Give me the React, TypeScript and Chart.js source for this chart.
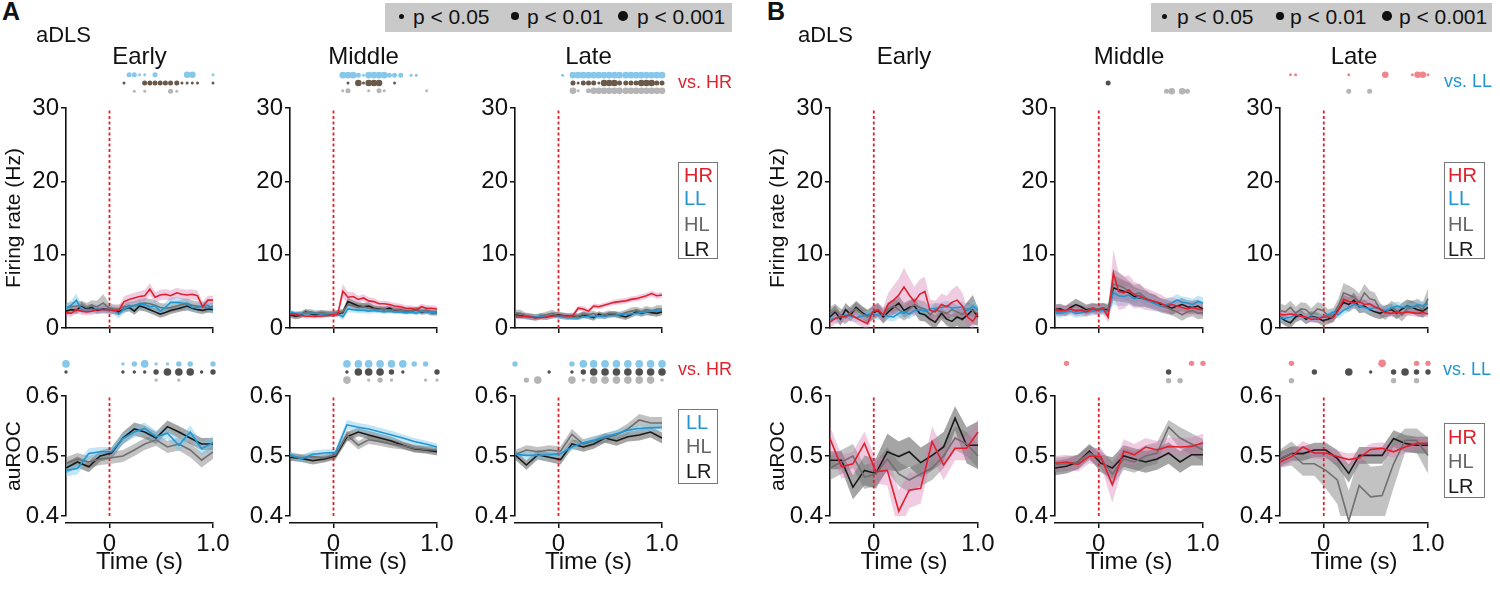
import React, { useEffect, useRef } from 'react';
import { Chart, registerables } from 'chart.js';

Chart.register(...registerables);

const FONT = '"Liberation Sans", Arial, Helvetica, sans-serif';
Chart.defaults.font.family = FONT;
Chart.defaults.color = '#111';

// ---------------- time bins & tick labels ----------------
const TIME_FR = [-0.42, -0.37, -0.32, -0.27, -0.22, -0.17, -0.12, -0.06, -0.01, 0.04, 0.09, 0.14, 0.19, 0.24, 0.29, 0.34, 0.39, 0.44, 0.49, 0.54, 0.59, 0.65, 0.70, 0.75, 0.80, 0.85, 0.90, 0.95, 1.00];
const TIME_ROC = [-0.42, -0.31, -0.20, -0.09, 0.02, 0.13, 0.24, 0.34, 0.45, 0.56, 0.67, 0.78, 0.89, 1.00];
const TIME_TICKS = [0, 1];
const TIME_TICK_LABELS = ['0', '1.0'];
const FR_Y_TICKS = [0, 10, 20, 30];
const FR_Y_LABELS = ['0', '10', '20', '30'];
const ROC_Y_TICKS = [0.4, 0.45, 0.5, 0.55, 0.6];
const ROC_Y_LABELS = ['0.4', '', '0.5', '', '0.6'];
const GROUP_TITLES = ['Early', 'Middle', 'Late'];

// ---------------- A: firing rate ----------------
const A_E_FR_HR = [2.1, 2.0, 2.5, 2.3, 2.2, 2.3, 2.5, 2.5, 2.5, 2.4, 2.4, 3.6, 3.9, 4.1, 4.3, 4.4, 5.3, 4.2, 4.5, 4.6, 4.4, 4.8, 4.6, 4.5, 4.6, 4.4, 2.9, 3.8, 3.8];
const A_E_FR_HR_SEM = [0.5, 0.5, 0.5, 0.5, 0.5, 0.5, 0.5, 0.5, 0.5, 0.5, 0.6, 0.7, 0.7, 0.7, 0.7, 0.8, 0.8, 0.7, 0.7, 0.7, 0.7, 0.7, 0.7, 0.7, 0.7, 0.7, 0.6, 0.6, 0.6];
const A_E_FR_LL = [2.7, 3.1, 3.8, 2.5, 2.5, 2.5, 2.6, 2.5, 2.5, 2.4, 1.9, 2.6, 2.9, 3.0, 3.2, 3.2, 2.9, 3.0, 2.3, 2.8, 3.5, 3.5, 3.4, 3.3, 2.8, 2.8, 3.0, 3.1, 2.6];
const A_E_FR_LL_SEM = [0.6, 0.7, 0.9, 0.6, 0.6, 0.6, 0.6, 0.6, 0.6, 0.6, 0.6, 0.6, 0.6, 0.6, 0.6, 0.6, 0.6, 0.6, 0.6, 0.7, 0.7, 0.7, 0.7, 0.7, 0.6, 0.6, 0.6, 0.7, 0.7];
const A_E_FR_HL = [2.8, 2.9, 3.0, 3.1, 2.8, 3.1, 2.9, 3.4, 2.8, 2.6, 2.6, 2.9, 3.0, 3.1, 3.3, 3.4, 3.3, 3.1, 2.8, 2.7, 2.8, 3.0, 3.2, 3.3, 3.1, 3.0, 2.9, 2.7, 3.0];
const A_E_FR_HL_SEM = [0.6, 0.6, 0.6, 0.6, 0.6, 0.7, 0.8, 1.2, 0.7, 0.6, 0.6, 0.6, 0.6, 0.6, 0.7, 0.7, 0.7, 0.7, 0.6, 0.6, 0.6, 0.6, 0.7, 0.7, 0.7, 0.6, 0.6, 0.6, 0.6];
const A_E_FR_LR = [2.3, 2.5, 2.4, 3.0, 2.6, 2.8, 2.4, 2.6, 2.5, 2.4, 2.2, 2.6, 2.8, 2.3, 3.0, 2.8, 2.5, 2.2, 1.9, 2.1, 2.4, 2.6, 2.8, 3.0, 2.7, 2.5, 2.4, 2.6, 2.5];
const A_E_FR_LR_SEM = [0.5, 0.5, 0.5, 0.6, 0.5, 0.5, 0.5, 0.5, 0.5, 0.5, 0.5, 0.5, 0.5, 0.5, 0.6, 0.5, 0.5, 0.5, 0.5, 0.5, 0.5, 0.5, 0.5, 0.6, 0.5, 0.5, 0.5, 0.5, 0.5];

const A_M_FR_HR = [1.9, 1.9, 1.7, 1.6, 1.6, 1.6, 1.6, 1.7, 1.8, 1.8, 5.0, 4.2, 4.3, 3.9, 4.1, 3.7, 3.6, 3.3, 3.3, 3.2, 3.0, 2.9, 2.7, 2.7, 2.5, 2.9, 2.7, 2.7, 2.6];
const A_M_FR_HR_SEM = [0.3, 0.3, 0.3, 0.3, 0.3, 0.3, 0.3, 0.3, 0.3, 0.3, 1.0, 0.7, 0.6, 0.5, 0.5, 0.5, 0.5, 0.4, 0.4, 0.4, 0.4, 0.4, 0.4, 0.4, 0.4, 0.4, 0.4, 0.4, 0.4];
const A_M_FR_LL = [2.2, 2.0, 2.0, 1.9, 2.0, 2.0, 1.9, 1.9, 2.0, 1.9, 1.5, 2.6, 2.5, 2.4, 2.4, 2.3, 2.4, 2.3, 2.2, 2.3, 2.2, 2.2, 2.1, 2.2, 2.0, 2.3, 2.2, 2.1, 2.1];
const A_M_FR_LL_SEM = [0.3, 0.3, 0.3, 0.3, 0.3, 0.3, 0.3, 0.3, 0.3, 0.3, 0.4, 0.5, 0.4, 0.4, 0.4, 0.4, 0.4, 0.3, 0.3, 0.3, 0.3, 0.3, 0.3, 0.3, 0.3, 0.3, 0.3, 0.3, 0.3];
const A_M_FR_HL = [2.0, 1.8, 1.9, 2.1, 2.2, 2.0, 2.1, 2.0, 2.0, 2.1, 2.2, 3.2, 3.0, 2.8, 2.9, 2.7, 2.6, 2.5, 2.6, 2.4, 2.5, 2.4, 2.3, 2.4, 2.5, 2.3, 2.4, 2.2, 2.2];
const A_M_FR_HL_SEM = [0.4, 0.4, 0.4, 0.4, 0.4, 0.4, 0.4, 0.4, 0.4, 0.4, 0.4, 0.6, 0.5, 0.5, 0.5, 0.5, 0.4, 0.4, 0.4, 0.4, 0.4, 0.4, 0.4, 0.4, 0.4, 0.4, 0.4, 0.4, 0.4];
const A_M_FR_LR = [1.8, 1.6, 1.7, 2.2, 1.9, 1.8, 2.0, 1.9, 1.9, 2.0, 2.1, 3.6, 3.3, 3.0, 2.9, 3.0, 2.7, 2.6, 2.5, 2.7, 2.4, 2.4, 2.3, 2.3, 2.5, 2.2, 2.3, 2.1, 2.1];
const A_M_FR_LR_SEM = [0.4, 0.4, 0.4, 0.4, 0.4, 0.4, 0.4, 0.4, 0.4, 0.4, 0.4, 0.6, 0.5, 0.5, 0.5, 0.5, 0.4, 0.4, 0.4, 0.4, 0.4, 0.4, 0.4, 0.4, 0.4, 0.4, 0.4, 0.4, 0.4];

const A_L_FR_HR = [1.5, 1.5, 1.6, 1.5, 1.4, 1.4, 1.5, 1.6, 1.7, 1.7, 1.6, 1.7, 2.7, 2.6, 2.3, 3.0, 2.9, 3.1, 3.3, 3.5, 3.6, 3.7, 3.9, 4.0, 4.2, 4.4, 4.7, 4.4, 4.5];
const A_L_FR_HR_SEM = [0.3, 0.3, 0.3, 0.3, 0.3, 0.3, 0.3, 0.3, 0.3, 0.3, 0.3, 0.3, 0.35, 0.35, 0.35, 0.35, 0.35, 0.35, 0.35, 0.35, 0.4, 0.4, 0.4, 0.4, 0.4, 0.4, 0.4, 0.4, 0.4];
const A_L_FR_LL = [1.6, 1.6, 1.5, 1.5, 1.5, 1.5, 1.6, 1.6, 1.6, 1.5, 1.4, 1.4, 1.4, 1.5, 1.6, 1.6, 1.6, 1.6, 1.7, 1.7, 1.8, 1.9, 1.9, 2.0, 2.1, 2.2, 2.3, 2.3, 2.4];
const A_L_FR_LL_SEM = [0.3, 0.3, 0.3, 0.3, 0.3, 0.3, 0.3, 0.3, 0.3, 0.3, 0.3, 0.3, 0.3, 0.3, 0.3, 0.3, 0.3, 0.3, 0.3, 0.3, 0.3, 0.3, 0.35, 0.35, 0.35, 0.35, 0.35, 0.35, 0.35];
const A_L_FR_HL = [2.0, 2.0, 1.7, 1.6, 1.5, 1.6, 1.8, 2.0, 1.7, 1.6, 1.5, 1.7, 1.6, 1.9, 1.8, 2.0, 1.6, 1.8, 2.0, 1.9, 1.8, 2.1, 2.3, 2.4, 2.2, 2.5, 2.3, 2.6, 2.6];
const A_L_FR_HL_SEM = [0.5, 0.5, 0.4, 0.4, 0.4, 0.4, 0.4, 0.5, 0.4, 0.4, 0.4, 0.4, 0.4, 0.4, 0.4, 0.4, 0.4, 0.4, 0.4, 0.4, 0.4, 0.4, 0.5, 0.5, 0.5, 0.5, 0.5, 0.5, 0.5];
const A_L_FR_LR = [1.8, 1.7, 1.6, 1.5, 1.4, 1.6, 1.5, 1.7, 1.8, 1.7, 1.6, 1.5, 1.5, 1.8, 1.6, 1.4, 1.9, 1.6, 1.8, 1.9, 1.7, 1.5, 1.8, 2.2, 2.0, 2.2, 2.1, 2.0, 2.2];
const A_L_FR_LR_SEM = [0.4, 0.4, 0.4, 0.4, 0.4, 0.4, 0.4, 0.4, 0.4, 0.4, 0.4, 0.4, 0.4, 0.4, 0.4, 0.4, 0.4, 0.4, 0.4, 0.4, 0.4, 0.4, 0.4, 0.45, 0.45, 0.45, 0.45, 0.45, 0.45];

// ---------------- B: firing rate ----------------
const B_E_FR_HR = [0.8, 1.3, 1.5, 1.6, 1.8, 1.4, 1.0, 0.6, 2.2, 2.5, 1.8, 3.3, 3.8, 4.5, 5.6, 4.5, 3.6, 4.6, 5.0, 2.4, 2.2, 3.2, 2.9, 3.5, 3.8, 3.0, 1.5, 0.9, 2.0];
const B_E_FR_HR_SEM = [0.8, 0.8, 0.8, 0.8, 0.8, 0.8, 0.8, 0.8, 0.9, 1.0, 1.0, 1.5, 2.0, 2.2, 2.6, 2.4, 2.0, 2.0, 2.0, 1.5, 1.5, 1.5, 1.5, 1.8, 2.0, 1.8, 1.2, 1.0, 1.0];
const B_E_FR_LL = [1.2, 1.3, 1.5, 1.8, 1.6, 1.4, 1.6, 1.8, 2.0, 1.7, 1.8, 1.6, 1.5, 2.0, 2.2, 1.9, 2.4, 2.5, 2.3, 2.6, 2.7, 2.8, 3.0, 2.7, 2.8, 2.9, 2.4, 3.0, 2.4];
const B_E_FR_LL_SEM = [0.6, 0.6, 0.6, 0.6, 0.6, 0.6, 0.6, 0.6, 0.6, 0.6, 0.6, 0.6, 0.6, 0.7, 0.7, 0.7, 0.7, 0.7, 0.7, 0.7, 0.7, 0.7, 0.7, 0.7, 0.7, 0.7, 0.7, 0.7, 0.7];
const B_E_FR_HL = [2.0, 2.4, 1.8, 1.4, 2.2, 2.6, 2.0, 1.5, 2.2, 2.5, 1.8, 2.6, 3.0, 2.5, 2.0, 2.5, 3.2, 2.8, 2.6, 1.8, 2.5, 2.2, 2.0, 2.5, 2.2, 1.8, 2.6, 2.4, 2.0];
const B_E_FR_HL_SEM = [0.9, 0.9, 0.9, 0.9, 0.9, 0.9, 0.9, 0.9, 0.9, 0.9, 0.9, 0.9, 1.0, 1.0, 1.0, 1.0, 1.0, 1.0, 1.0, 0.9, 0.9, 0.9, 0.9, 0.9, 0.9, 0.9, 0.9, 0.9, 0.9];
const B_E_FR_LR = [1.5, 2.2, 1.2, 2.5, 1.8, 2.8, 2.2, 1.6, 2.0, 2.4, 1.5, 2.2, 2.8, 3.4, 2.4, 2.8, 3.0, 2.0, 1.8, 1.2, 0.8, 2.0, 1.2, 0.9, 1.5, 1.2, 1.8, 2.5, 1.5];
const B_E_FR_LR_SEM = [0.9, 0.9, 0.9, 0.9, 0.9, 0.9, 0.9, 0.9, 0.9, 0.9, 0.9, 0.9, 1.0, 1.0, 1.0, 1.0, 1.0, 1.0, 0.9, 0.9, 0.9, 0.9, 0.9, 0.9, 1.2, 1.5, 1.8, 2.0, 1.2];

const B_M_FR_HR = [2.5, 2.4, 2.4, 2.6, 2.3, 2.4, 2.2, 2.6, 2.4, 2.7, 1.5, 7.5, 5.0, 4.8, 5.2, 4.5, 4.4, 4.0, 3.8, 3.6, 3.4, 3.0, 3.2, 3.0, 2.8, 2.6, 2.8, 2.6, 2.5];
const B_M_FR_HR_SEM = [0.7, 0.7, 0.7, 0.7, 0.7, 0.7, 0.7, 0.7, 0.7, 0.7, 0.8, 3.2, 2.5, 2.2, 2.0, 1.8, 1.6, 1.5, 1.4, 1.3, 1.2, 1.1, 1.0, 1.0, 0.9, 0.9, 0.9, 0.9, 0.9];
const B_M_FR_LL = [2.1, 2.0, 2.2, 2.3, 2.0, 2.1, 2.2, 2.3, 2.4, 2.4, 2.2, 4.8, 4.4, 4.3, 4.5, 4.0, 4.2, 3.9, 3.6, 3.3, 3.0, 3.2, 3.4, 3.8, 3.5, 3.4, 3.2, 3.6, 3.4];
const B_M_FR_LL_SEM = [0.6, 0.6, 0.6, 0.6, 0.6, 0.6, 0.6, 0.6, 0.6, 0.6, 0.7, 1.6, 1.4, 1.3, 1.2, 1.1, 1.0, 1.0, 0.9, 0.9, 0.8, 0.8, 0.8, 0.8, 0.8, 0.8, 0.8, 0.8, 0.8];
const B_M_FR_HL = [2.3, 2.2, 2.4, 2.6, 2.4, 2.5, 2.3, 2.7, 2.6, 2.8, 2.6, 6.0, 5.8, 5.5, 5.0, 4.6, 4.8, 4.2, 3.8, 3.6, 3.0, 2.8, 2.5, 2.2, 1.8, 2.2, 2.4, 2.0, 2.1];
const B_M_FR_HL_SEM = [0.6, 0.6, 0.6, 0.6, 0.6, 0.6, 0.6, 0.6, 0.6, 0.6, 0.7, 2.0, 1.8, 1.6, 1.4, 1.3, 1.2, 1.1, 1.0, 1.0, 0.9, 0.9, 0.8, 0.8, 0.8, 0.8, 0.8, 0.8, 0.8];
const B_M_FR_LR = [2.5, 2.6, 2.3, 2.8, 3.2, 2.9, 2.5, 2.7, 2.6, 2.7, 2.4, 5.5, 5.2, 5.0, 4.8, 4.3, 4.1, 4.0, 3.7, 3.5, 3.2, 3.0, 2.7, 3.0, 3.2, 2.9, 2.8, 3.0, 2.6];
const B_M_FR_LR_SEM = [0.7, 0.7, 0.7, 0.7, 0.8, 0.7, 0.7, 0.7, 0.7, 0.7, 0.7, 1.8, 1.6, 1.5, 1.4, 1.3, 1.2, 1.1, 1.0, 1.0, 0.9, 0.9, 0.9, 0.9, 0.9, 0.9, 0.9, 0.9, 0.9];

const B_L_FR_HR = [1.8, 1.8, 1.9, 1.8, 1.6, 1.5, 1.2, 1.2, 1.5, 1.5, 1.4, 2.4, 3.9, 3.6, 3.4, 3.6, 3.2, 3.3, 2.9, 2.6, 2.1, 2.0, 2.2, 2.0, 2.2, 2.1, 2.0, 2.1, 1.9];
const B_L_FR_HR_SEM = [0.5, 0.5, 0.5, 0.5, 0.5, 0.5, 0.5, 0.5, 0.5, 0.5, 0.5, 0.7, 0.9, 0.8, 0.8, 0.8, 0.7, 0.7, 0.6, 0.6, 0.5, 0.5, 0.5, 0.5, 0.5, 0.5, 0.5, 0.5, 0.5];
const B_L_FR_LL = [1.4, 1.3, 1.5, 1.8, 1.6, 1.4, 1.5, 1.3, 1.5, 1.8, 2.2, 1.8, 2.4, 2.8, 3.2, 3.0, 2.8, 2.6, 2.8, 2.6, 2.4, 2.7, 3.0, 2.8, 2.9, 2.8, 3.2, 3.0, 3.3];
const B_L_FR_LL_SEM = [0.5, 0.5, 0.5, 0.5, 0.5, 0.5, 0.5, 0.5, 0.5, 0.5, 0.5, 0.5, 0.6, 0.6, 0.6, 0.6, 0.6, 0.6, 0.6, 0.6, 0.6, 0.6, 0.6, 0.6, 0.6, 0.6, 0.6, 0.6, 0.6];
const B_L_FR_HL = [2.4, 2.2, 2.8, 2.0, 2.6, 2.5, 1.8, 2.6, 2.4, 1.7, 1.8, 3.0, 4.8, 4.5, 4.2, 3.5, 4.8, 4.0, 3.8, 2.5, 2.0, 2.8, 2.4, 1.8, 2.6, 2.8, 3.0, 2.5, 4.0];
const B_L_FR_HL_SEM = [0.9, 0.9, 0.9, 0.9, 0.9, 0.9, 0.9, 0.9, 0.9, 0.9, 0.9, 1.0, 1.3, 1.3, 1.2, 1.2, 1.2, 1.1, 1.0, 0.9, 0.9, 0.9, 0.9, 0.9, 0.9, 0.9, 1.0, 1.0, 1.4];
const B_L_FR_LR = [1.5, 1.0, 0.7, 1.5, 1.8, 1.2, 1.6, 1.4, 1.0, 1.2, 1.5, 2.5, 3.5, 3.2, 3.8, 2.9, 3.0, 2.5, 2.2, 2.0, 2.3, 2.5, 2.0, 2.6, 3.0, 2.8, 2.5, 2.3, 2.8];
const B_L_FR_LR_SEM = [0.7, 0.7, 0.7, 0.7, 0.7, 0.7, 0.7, 0.7, 0.7, 0.7, 0.7, 0.8, 1.0, 1.0, 1.0, 0.9, 0.9, 0.8, 0.8, 0.8, 0.8, 0.8, 0.8, 0.8, 0.9, 0.9, 0.9, 0.9, 0.9];

// ---------------- A: auROC ----------------
const A_E_ROC_LL = [0.476, 0.479, 0.504, 0.507, 0.507, 0.529, 0.540, 0.546, 0.532, 0.538, 0.518, 0.540, 0.512, 0.522];
const A_E_ROC_LL_SEM = [0.010, 0.010, 0.009, 0.008, 0.008, 0.009, 0.009, 0.010, 0.010, 0.010, 0.011, 0.011, 0.011, 0.011];
const A_E_ROC_HL = [0.488, 0.495, 0.490, 0.495, 0.497, 0.500, 0.510, 0.520, 0.527, 0.515, 0.520, 0.510, 0.493, 0.507];
const A_E_ROC_HL_SEM = [0.010, 0.010, 0.010, 0.010, 0.010, 0.010, 0.010, 0.010, 0.010, 0.010, 0.011, 0.012, 0.012, 0.012];
const A_E_ROC_LR = [0.480, 0.490, 0.482, 0.500, 0.505, 0.530, 0.545, 0.540, 0.530, 0.549, 0.540, 0.530, 0.520, 0.520];
const A_E_ROC_LR_SEM = [0.009, 0.009, 0.009, 0.009, 0.009, 0.010, 0.011, 0.011, 0.010, 0.010, 0.010, 0.010, 0.010, 0.010];

const A_M_ROC_LL = [0.502, 0.495, 0.503, 0.505, 0.506, 0.552, 0.548, 0.545, 0.540, 0.535, 0.530, 0.524, 0.520, 0.515];
const A_M_ROC_LL_SEM = [0.006, 0.006, 0.006, 0.006, 0.006, 0.008, 0.007, 0.007, 0.007, 0.007, 0.006, 0.006, 0.006, 0.006];
const A_M_ROC_HL = [0.500, 0.497, 0.499, 0.497, 0.502, 0.535, 0.518, 0.527, 0.524, 0.520, 0.517, 0.513, 0.511, 0.510];
const A_M_ROC_HL_SEM = [0.006, 0.006, 0.006, 0.006, 0.006, 0.008, 0.007, 0.007, 0.007, 0.007, 0.006, 0.006, 0.006, 0.006];
const A_M_ROC_LR = [0.498, 0.496, 0.492, 0.495, 0.500, 0.532, 0.540, 0.535, 0.530, 0.525, 0.518, 0.512, 0.510, 0.507];
const A_M_ROC_LR_SEM = [0.006, 0.006, 0.006, 0.006, 0.006, 0.008, 0.007, 0.007, 0.007, 0.007, 0.006, 0.006, 0.006, 0.006];

const A_L_ROC_LL = [0.503, 0.501, 0.501, 0.502, 0.504, 0.515, 0.522, 0.526, 0.532, 0.537, 0.543, 0.546, 0.547, 0.548];
const A_L_ROC_LL_SEM = [0.006, 0.006, 0.006, 0.006, 0.006, 0.006, 0.006, 0.006, 0.006, 0.006, 0.006, 0.006, 0.006, 0.006];
const A_L_ROC_HL = [0.502, 0.510, 0.507, 0.510, 0.508, 0.536, 0.520, 0.525, 0.530, 0.535, 0.545, 0.560, 0.555, 0.555];
const A_L_ROC_HL_SEM = [0.008, 0.008, 0.008, 0.008, 0.008, 0.009, 0.008, 0.008, 0.008, 0.008, 0.009, 0.010, 0.010, 0.010];
const A_L_ROC_LR = [0.502, 0.485, 0.502, 0.498, 0.494, 0.520, 0.515, 0.520, 0.530, 0.525, 0.532, 0.535, 0.540, 0.530];
const A_L_ROC_LR_SEM = [0.008, 0.008, 0.008, 0.008, 0.008, 0.008, 0.008, 0.008, 0.008, 0.008, 0.008, 0.009, 0.009, 0.009];

// ---------------- B: auROC ----------------
const B_E_ROC_HR = [0.529, 0.482, 0.487, 0.521, 0.474, 0.476, 0.408, 0.443, 0.446, 0.524, 0.485, 0.513, 0.513, 0.540];
const B_E_ROC_HR_SEM = [0.020, 0.020, 0.020, 0.020, 0.020, 0.025, 0.035, 0.030, 0.025, 0.025, 0.025, 0.020, 0.020, 0.020];
const B_E_ROC_HL = [0.480, 0.490, 0.500, 0.465, 0.470, 0.495, 0.470, 0.460, 0.470, 0.480, 0.500, 0.530, 0.520, 0.500];
const B_E_ROC_HL_SEM = [0.020, 0.020, 0.020, 0.020, 0.020, 0.020, 0.020, 0.020, 0.020, 0.020, 0.020, 0.020, 0.020, 0.020];
const B_E_ROC_LR = [0.493, 0.493, 0.448, 0.476, 0.471, 0.507, 0.499, 0.507, 0.489, 0.501, 0.515, 0.563, 0.518, 0.518];
const B_E_ROC_LR_SEM = [0.015, 0.015, 0.020, 0.025, 0.025, 0.030, 0.025, 0.025, 0.025, 0.025, 0.025, 0.020, 0.030, 0.040];

const B_M_ROC_HR = [0.488, 0.490, 0.486, 0.500, 0.499, 0.452, 0.508, 0.502, 0.515, 0.510, 0.516, 0.515, 0.516, 0.522];
const B_M_ROC_HR_SEM = [0.012, 0.012, 0.012, 0.012, 0.015, 0.030, 0.020, 0.018, 0.015, 0.015, 0.015, 0.015, 0.015, 0.015];
const B_M_ROC_HL = [0.485, 0.487, 0.490, 0.505, 0.495, 0.470, 0.495, 0.490, 0.500, 0.505, 0.548, 0.530, 0.520, 0.510];
const B_M_ROC_HL_SEM = [0.012, 0.012, 0.012, 0.012, 0.015, 0.020, 0.018, 0.018, 0.018, 0.018, 0.012, 0.018, 0.018, 0.018];
const B_M_ROC_LR = [0.480, 0.483, 0.490, 0.508, 0.488, 0.480, 0.500, 0.495, 0.490, 0.495, 0.505, 0.490, 0.502, 0.502];
const B_M_ROC_LR_SEM = [0.012, 0.012, 0.012, 0.012, 0.015, 0.018, 0.018, 0.018, 0.018, 0.018, 0.018, 0.018, 0.018, 0.018];

const B_L_ROC_HR = [0.490, 0.499, 0.515, 0.505, 0.505, 0.499, 0.494, 0.497, 0.511, 0.513, 0.507, 0.515, 0.521, 0.521];
const B_L_ROC_HR_SEM = [0.010, 0.010, 0.010, 0.010, 0.010, 0.010, 0.010, 0.010, 0.010, 0.010, 0.010, 0.010, 0.010, 0.010];
const B_L_ROC_HL = [0.496, 0.504, 0.487, 0.487, 0.476, 0.460, 0.392, 0.451, 0.432, 0.434, 0.487, 0.526, 0.526, 0.501];
const B_L_ROC_HL_SEM = [0.015, 0.020, 0.020, 0.020, 0.030, 0.040, 0.050, 0.050, 0.050, 0.050, 0.040, 0.020, 0.020, 0.030];
const B_L_ROC_LR = [0.495, 0.504, 0.504, 0.510, 0.510, 0.496, 0.471, 0.501, 0.501, 0.501, 0.529, 0.521, 0.518, 0.518];
const B_L_ROC_LR_SEM = [0.012, 0.012, 0.012, 0.012, 0.012, 0.014, 0.015, 0.014, 0.014, 0.014, 0.014, 0.014, 0.014, 0.014];

// ---------------- significance markers: [bin index, level 1..3] ----------------
type Sig = [number, number][];
const A_E_FR_SIG_LL: Sig = [[12, 2], [13, 2], [14, 1], [15, 1], [17, 2], [23, 3], [24, 3], [28, 1]];
const A_E_FR_SIG_LR: Sig = [[11, 1], [15, 2], [16, 2], [17, 2], [18, 2], [19, 2], [20, 2], [21, 2], [22, 1], [23, 1], [24, 1], [25, 1], [28, 1]];
const A_E_FR_SIG_HL: Sig = [[13, 1], [15, 1], [20, 2], [21, 1]];
const A_M_FR_SIG_LL: Sig = [[10, 3], [11, 3], [12, 3], [13, 2], [14, 1], [15, 3], [16, 3], [17, 3], [18, 3], [19, 2], [20, 2], [21, 2], [23, 1], [24, 1]];
const A_M_FR_SIG_LR: Sig = [[11, 1], [13, 3], [14, 1], [15, 3], [16, 3], [17, 3], [20, 1]];
const A_M_FR_SIG_HL: Sig = [[10, 1], [11, 2], [15, 1], [17, 2], [18, 1], [26, 1]];
const A_L_FR_SIG_LL: Sig = [[9, 1], [11, 3], [12, 3], [13, 3], [14, 3], [15, 3], [16, 3], [17, 3], [18, 3], [19, 3], [20, 3], [21, 3], [22, 3], [23, 3], [24, 3], [25, 3], [26, 3], [27, 3], [28, 3]];
const A_L_FR_SIG_LR: Sig = [[11, 2], [12, 1], [13, 2], [14, 2], [15, 2], [16, 1], [17, 3], [18, 3], [19, 3], [20, 2], [21, 2], [22, 2], [23, 2], [24, 3], [25, 3], [26, 3], [27, 2], [28, 2]];
const A_L_FR_SIG_HL: Sig = [[11, 3], [12, 1], [14, 2], [15, 3], [16, 3], [17, 3], [18, 3], [19, 3], [20, 3], [21, 3], [22, 3], [23, 3], [24, 3], [25, 3], [26, 3], [27, 3], [28, 3]];

const A_E_ROC_SIG_LL: Sig = [[0, 3], [5, 1], [6, 2], [7, 3], [8, 1], [9, 1], [10, 2], [11, 2], [13, 2]];
const A_E_ROC_SIG_LR: Sig = [[0, 1], [5, 1], [6, 1], [7, 1], [8, 2], [9, 3], [10, 3], [11, 3], [12, 1], [13, 2]];
const A_E_ROC_SIG_HL: Sig = [[8, 1], [10, 1]];
const A_M_ROC_SIG_LL: Sig = [[5, 3], [6, 3], [7, 3], [8, 3], [9, 3], [10, 3], [11, 2], [12, 2]];
const A_M_ROC_SIG_LR: Sig = [[5, 1], [6, 3], [7, 3], [8, 3], [9, 2], [10, 1], [13, 2]];
const A_M_ROC_SIG_HL: Sig = [[5, 3], [7, 1], [8, 2], [9, 1], [12, 1], [13, 1]];
const A_L_ROC_SIG_LL: Sig = [[0, 2], [5, 2], [6, 3], [7, 3], [8, 3], [9, 3], [10, 3], [11, 3], [12, 3], [13, 3]];
const A_L_ROC_SIG_LR: Sig = [[3, 1], [5, 1], [6, 2], [7, 3], [8, 3], [9, 3], [10, 3], [11, 3], [12, 3], [13, 3]];
const A_L_ROC_SIG_HL: Sig = [[1, 2], [2, 3], [5, 3], [6, 1], [7, 3], [8, 3], [9, 3], [10, 3], [11, 3], [12, 3], [13, 1]];

const B_M_FR_SIG_LR: Sig = [[10, 2]];
const B_M_FR_SIG_HL: Sig = [[21, 2], [22, 3], [24, 3], [25, 2]];
const B_L_FR_SIG_HR: Sig = [[2, 1], [3, 1], [13, 1], [20, 3], [25, 1], [26, 3], [27, 3], [28, 1]];
const B_L_FR_SIG_HL: Sig = [[13, 2], [17, 2]];
const B_M_ROC_SIG_HR: Sig = [[1, 2], [12, 2], [13, 2]];
const B_M_ROC_SIG_LR: Sig = [[10, 2]];
const B_M_ROC_SIG_HL: Sig = [[10, 2], [11, 2]];
const B_L_ROC_SIG_HR: Sig = [[1, 2], [9, 3], [12, 2], [13, 2]];
const B_L_ROC_SIG_LR: Sig = [[3, 2], [6, 3], [8, 1], [10, 2], [11, 3], [12, 2], [13, 2]];
const B_L_ROC_SIG_HL: Sig = [[1, 2], [10, 2], [12, 2]];
const NONE: Sig = [];

// ---------------- styles ----------------
type Cond = 'HR' | 'LL' | 'HL' | 'LR';
const LINE_COLORS: Record<Cond, string> = { HR: '#e2202c', LL: '#2196d3', HL: '#707070', LR: '#1a1a1a' };
const BAND_COLORS: Record<Cond, string> = {
  HR: 'rgba(214,120,180,0.38)',
  LL: 'rgba(120,200,232,0.45)',
  HL: 'rgba(110,110,110,0.42)',
  LR: 'rgba(55,55,55,0.45)',
};
const LINE_ORDER: Record<Cond, number> = { HR: 1, LL: 2, HL: 3, LR: 4 };
const SIG_BLUE = '#86c7ea';
const SIG_BROWN = '#6a5849';
const SIG_DARK = '#505050';
const SIG_GRAY = '#b5b5b5';
const SIG_RED = '#f0868c';
const AXIS = '#111';

const YW = 64;
const PADR = 22;
const GEOM = {
  fr: { top: 40, padTop: 68, area: 220, gap: 0, xh: 18, sigTop: 63.5, sigStep: 9.5, r: [0, 1.5, 2.5, 3.3] },
  roc: { top: 340, padTop: 56, area: 120, gap: 7, xh: 58, sigTop: 352, sigStep: 10, r: [0, 1.7, 2.7, 3.8] },
};

interface SeriesSpec { cond: Cond; mean: number[]; sem: number[] }
interface SigRow { color: string; pts: Sig }
interface PanelSpec { id: string; row: 'fr' | 'roc'; axisX: number; plotW: number; yTitle?: string; series: SeriesSpec[]; sig: SigRow[] }

const s = (cond: Cond, mean: number[], sem: number[]): SeriesSpec => ({ cond, mean, sem });

const PANELS: PanelSpec[] = [
  { id: 'AEfr', row: 'fr', axisX: 66, plotW: 147, yTitle: 'Firing rate (Hz)',
    series: [s('LR', A_E_FR_LR, A_E_FR_LR_SEM), s('HL', A_E_FR_HL, A_E_FR_HL_SEM), s('LL', A_E_FR_LL, A_E_FR_LL_SEM), s('HR', A_E_FR_HR, A_E_FR_HR_SEM)],
    sig: [{ color: SIG_BLUE, pts: A_E_FR_SIG_LL }, { color: SIG_BROWN, pts: A_E_FR_SIG_LR }, { color: SIG_GRAY, pts: A_E_FR_SIG_HL }] },
  { id: 'AMfr', row: 'fr', axisX: 290, plotW: 147,
    series: [s('LR', A_M_FR_LR, A_M_FR_LR_SEM), s('HL', A_M_FR_HL, A_M_FR_HL_SEM), s('LL', A_M_FR_LL, A_M_FR_LL_SEM), s('HR', A_M_FR_HR, A_M_FR_HR_SEM)],
    sig: [{ color: SIG_BLUE, pts: A_M_FR_SIG_LL }, { color: SIG_BROWN, pts: A_M_FR_SIG_LR }, { color: SIG_GRAY, pts: A_M_FR_SIG_HL }] },
  { id: 'ALfr', row: 'fr', axisX: 515, plotW: 147,
    series: [s('LR', A_L_FR_LR, A_L_FR_LR_SEM), s('HL', A_L_FR_HL, A_L_FR_HL_SEM), s('LL', A_L_FR_LL, A_L_FR_LL_SEM), s('HR', A_L_FR_HR, A_L_FR_HR_SEM)],
    sig: [{ color: SIG_BLUE, pts: A_L_FR_SIG_LL }, { color: SIG_BROWN, pts: A_L_FR_SIG_LR }, { color: SIG_GRAY, pts: A_L_FR_SIG_HL }] },
  { id: 'AEroc', row: 'roc', axisX: 66, plotW: 147, yTitle: 'auROC',
    series: [s('LR', A_E_ROC_LR, A_E_ROC_LR_SEM), s('HL', A_E_ROC_HL, A_E_ROC_HL_SEM), s('LL', A_E_ROC_LL, A_E_ROC_LL_SEM)],
    sig: [{ color: SIG_BLUE, pts: A_E_ROC_SIG_LL }, { color: SIG_DARK, pts: A_E_ROC_SIG_LR }, { color: SIG_GRAY, pts: A_E_ROC_SIG_HL }] },
  { id: 'AMroc', row: 'roc', axisX: 290, plotW: 147,
    series: [s('LR', A_M_ROC_LR, A_M_ROC_LR_SEM), s('HL', A_M_ROC_HL, A_M_ROC_HL_SEM), s('LL', A_M_ROC_LL, A_M_ROC_LL_SEM)],
    sig: [{ color: SIG_BLUE, pts: A_M_ROC_SIG_LL }, { color: SIG_DARK, pts: A_M_ROC_SIG_LR }, { color: SIG_GRAY, pts: A_M_ROC_SIG_HL }] },
  { id: 'ALroc', row: 'roc', axisX: 515, plotW: 147,
    series: [s('LR', A_L_ROC_LR, A_L_ROC_LR_SEM), s('HL', A_L_ROC_HL, A_L_ROC_HL_SEM), s('LL', A_L_ROC_LL, A_L_ROC_LL_SEM)],
    sig: [{ color: SIG_BLUE, pts: A_L_ROC_SIG_LL }, { color: SIG_DARK, pts: A_L_ROC_SIG_LR }, { color: SIG_GRAY, pts: A_L_ROC_SIG_HL }] },

  { id: 'BEfr', row: 'fr', axisX: 830, plotW: 148, yTitle: 'Firing rate (Hz)',
    series: [s('LR', B_E_FR_LR, B_E_FR_LR_SEM), s('HL', B_E_FR_HL, B_E_FR_HL_SEM), s('LL', B_E_FR_LL, B_E_FR_LL_SEM), s('HR', B_E_FR_HR, B_E_FR_HR_SEM)],
    sig: [{ color: SIG_RED, pts: NONE }, { color: SIG_DARK, pts: NONE }, { color: SIG_GRAY, pts: NONE }] },
  { id: 'BMfr', row: 'fr', axisX: 1055, plotW: 148,
    series: [s('LR', B_M_FR_LR, B_M_FR_LR_SEM), s('HL', B_M_FR_HL, B_M_FR_HL_SEM), s('LL', B_M_FR_LL, B_M_FR_LL_SEM), s('HR', B_M_FR_HR, B_M_FR_HR_SEM)],
    sig: [{ color: SIG_RED, pts: NONE }, { color: SIG_DARK, pts: B_M_FR_SIG_LR }, { color: SIG_GRAY, pts: B_M_FR_SIG_HL }] },
  { id: 'BLfr', row: 'fr', axisX: 1280, plotW: 148,
    series: [s('LR', B_L_FR_LR, B_L_FR_LR_SEM), s('HL', B_L_FR_HL, B_L_FR_HL_SEM), s('LL', B_L_FR_LL, B_L_FR_LL_SEM), s('HR', B_L_FR_HR, B_L_FR_HR_SEM)],
    sig: [{ color: SIG_RED, pts: B_L_FR_SIG_HR }, { color: SIG_DARK, pts: NONE }, { color: SIG_GRAY, pts: B_L_FR_SIG_HL }] },
  { id: 'BEroc', row: 'roc', axisX: 830, plotW: 148, yTitle: 'auROC',
    series: [s('LR', B_E_ROC_LR, B_E_ROC_LR_SEM), s('HL', B_E_ROC_HL, B_E_ROC_HL_SEM), s('HR', B_E_ROC_HR, B_E_ROC_HR_SEM)],
    sig: [{ color: SIG_RED, pts: NONE }, { color: SIG_DARK, pts: NONE }, { color: SIG_GRAY, pts: NONE }] },
  { id: 'BMroc', row: 'roc', axisX: 1055, plotW: 148,
    series: [s('LR', B_M_ROC_LR, B_M_ROC_LR_SEM), s('HL', B_M_ROC_HL, B_M_ROC_HL_SEM), s('HR', B_M_ROC_HR, B_M_ROC_HR_SEM)],
    sig: [{ color: SIG_RED, pts: B_M_ROC_SIG_HR }, { color: SIG_DARK, pts: B_M_ROC_SIG_LR }, { color: SIG_GRAY, pts: B_M_ROC_SIG_HL }] },
  { id: 'BLroc', row: 'roc', axisX: 1280, plotW: 148,
    series: [s('LR', B_L_ROC_LR, B_L_ROC_LR_SEM), s('HL', B_L_ROC_HL, B_L_ROC_HL_SEM), s('HR', B_L_ROC_HR, B_L_ROC_HR_SEM)],
    sig: [{ color: SIG_RED, pts: B_L_ROC_SIG_HR }, { color: SIG_DARK, pts: B_L_ROC_SIG_LR }, { color: SIG_GRAY, pts: B_L_ROC_SIG_HL }] },
];

function buildConfig(spec: PanelSpec) {
  const isRoc = spec.row === 'roc';
  const g = GEOM[spec.row];
  const xs = isRoc ? TIME_ROC : TIME_FR;
  const yMin = isRoc ? 0.4 : 0;
  const yMax = isRoc ? 0.6 : 30;
  const yTicks = isRoc ? ROC_Y_TICKS : FR_Y_TICKS;
  const yLabels = isRoc ? ROC_Y_LABELS : FR_Y_LABELS;
  const datasets: any[] = [];

  spec.series.forEach((sr) => {
    datasets.push({
      type: 'line', xAxisID: 'x', yAxisID: 'y', clip: false, order: 20 + LINE_ORDER[sr.cond],
      data: xs.map((x, i) => ({ x, y: sr.mean[i] + sr.sem[i] })),
      fill: '+1', backgroundColor: BAND_COLORS[sr.cond], borderWidth: 0, pointRadius: 0, tension: 0,
    });
    datasets.push({
      type: 'line', xAxisID: 'x', yAxisID: 'y', clip: false, order: 20 + LINE_ORDER[sr.cond],
      data: xs.map((x, i) => ({ x, y: sr.mean[i] - sr.sem[i] })),
      fill: false, borderWidth: 0, pointRadius: 0, tension: 0,
    });
  });

  datasets.push({
    type: 'line', xAxisID: 'x', yAxisID: 'y', order: 15, clip: false,
    data: [{ x: 0, y: yMin }, { x: 0, y: yMax }],
    borderColor: '#e0202a', borderWidth: 1.8, borderDash: [3, 2.5], pointRadius: 0, fill: false,
  });

  spec.series.forEach((sr) => {
    datasets.push({
      type: 'line', xAxisID: 'x', yAxisID: 'y', clip: false, order: LINE_ORDER[sr.cond],
      data: xs.map((x, i) => ({ x, y: sr.mean[i] })),
      borderColor: LINE_COLORS[sr.cond], borderWidth: 1.6, pointRadius: 0, fill: false, tension: 0,
    });
  });

  const gridOpts = { display: true, drawOnChartArea: false, drawTicks: true, tickLength: 5, color: AXIS, lineWidth: 1.5 };
  const borderOpts = { display: true, color: AXIS, width: 1.6 };

  const scales: any = {
    x: {
      type: 'linear', position: 'bottom', weight: 1, min: -0.42, max: 1.0,
      afterBuildTicks: (sc: any) => { sc.ticks = TIME_TICKS.map((v) => ({ value: v })); },
      ticks: { display: isRoc, autoSkip: false, maxRotation: 0, padding: 2, color: AXIS, font: { size: 24 },
        callback: (_v: any, i: number) => TIME_TICK_LABELS[i] },
      grid: gridOpts, border: borderOpts,
      title: isRoc ? { display: true, text: 'Time (s)', color: AXIS, font: { size: 24 }, padding: { top: 0, bottom: 4 } } : { display: false },
      afterFit: (sc: any) => { sc.height = g.xh; },
    },
    y: {
      type: 'linear', position: 'left', min: yMin, max: yMax,
      afterBuildTicks: (sc: any) => { sc.ticks = yTicks.map((v) => ({ value: v })); },
      ticks: { padding: 2, color: AXIS, font: { size: 24 }, callback: (_v: any, i: number) => yLabels[i] },
      grid: gridOpts, border: borderOpts,
      title: spec.yTitle ? { display: true, text: spec.yTitle, color: AXIS, font: { size: 21 }, padding: { top: 0, bottom: 0 } } : { display: false },
      afterFit: (sc: any) => { sc.width = YW; },
    },
  };
  if (isRoc) {
    scales.xGap = {
      type: 'linear', position: 'bottom', weight: 0, display: true,
      ticks: { display: false }, grid: { display: false }, border: { display: false },
      afterFit: (sc: any) => { sc.height = g.gap; },
    };
  }

  return {
    type: 'line',
    data: { datasets },
    options: {
      responsive: false, animation: false, events: [],
      layout: { padding: { top: g.padTop, right: PADR, left: 0, bottom: 0 } },
      plugins: { legend: { display: false }, tooltip: { enabled: false } },
      scales,
    },
  };
}

// significance rows: separate strip chart sharing the same x range and horizontal layout
function buildSigConfig(spec: PanelSpec) {
  const g = GEOM[spec.row];
  const xs = spec.row === 'roc' ? TIME_ROC : TIME_FR;
  const datasets = spec.sig.map((row, r) => ({
    type: 'line', showLine: false, clip: false,
    data: row.pts.map(([i]) => ({ x: xs[i], y: r })),
    pointRadius: row.pts.map(([, l]) => g.r[l]),
    pointHoverRadius: row.pts.map(([, l]) => g.r[l]),
    pointBackgroundColor: row.color, pointBorderColor: row.color, pointBorderWidth: 0,
  }));
  return {
    type: 'line',
    data: { datasets },
    options: {
      responsive: false, animation: false, events: [],
      layout: { padding: { top: 0, right: PADR, left: YW, bottom: 0 } },
      plugins: { legend: { display: false }, tooltip: { enabled: false } },
      scales: {
        x: { type: 'linear', min: -0.42, max: 1.0, display: false },
        y: { type: 'linear', min: -1, max: 3, reverse: true, display: false },
      },
    },
  };
}

function Panel({ spec }: { spec: PanelSpec }) {
  const ref = useRef<HTMLCanvasElement>(null);
  const sigRef = useRef<HTMLCanvasElement>(null);
  const g = GEOM[spec.row];
  const w = YW + spec.plotW + PADR;
  const h = g.padTop + g.area + g.gap + g.xh;
  const sh = g.sigStep * 4;
  useEffect(() => {
    if (!ref.current || !sigRef.current) return;
    const chart = new Chart(ref.current, buildConfig(spec) as any);
    const sigChart = new Chart(sigRef.current, buildSigConfig(spec) as any);
    return () => { chart.destroy(); sigChart.destroy(); };
  }, [spec]);
  return (
    <>
      <canvas ref={ref} width={w} height={h}
        style={{ position: 'absolute', left: spec.axisX - YW, top: g.top, width: w, height: h }} />
      <canvas ref={sigRef} width={w} height={sh}
        style={{ position: 'absolute', left: spec.axisX - YW, top: g.sigTop, width: w, height: sh }} />
    </>
  );
}

function Txt({ x, base, size, color = '#111', bold = false, center = false, children }:
  { x: number; base: number; size: number; color?: string; bold?: boolean; center?: boolean; children: React.ReactNode }) {
  return (
    <div style={{
      position: 'absolute', left: x, top: base - 0.8465 * size, fontSize: size, lineHeight: `${size}px`,
      fontFamily: FONT, color, fontWeight: bold ? 700 : 400, whiteSpace: 'nowrap',
      transform: center ? 'translateX(-50%)' : undefined,
    }}>{children}</div>
  );
}

function Dot({ cx, cy, d }: { cx: number; cy: number; d: number }) {
  return <div style={{ position: 'absolute', left: cx - d / 2, top: cy - d / 2, width: d, height: d, borderRadius: '50%', background: '#111' }} />;
}

function PLegend({ x, w, dots, texts }: { x: number; w: number; dots: number[]; texts: number[] }) {
  const labels = ['p < 0.05', 'p < 0.01', 'p < 0.001'];
  const sizes = [5, 7.5, 9.5];
  return (
    <>
      <div style={{ position: 'absolute', left: x, top: 3, width: w, height: 29, background: '#c9c9c9' }} />
      {dots.map((dx, i) => <Dot key={'d' + i} cx={dx} cy={16} d={sizes[i]} />)}
      {texts.map((tx, i) => <Txt key={'t' + i} x={tx} base={24} size={21}>{labels[i]}</Txt>)}
    </>
  );
}

function CondLegend({ x, y, w, h, tx, items }: { x: number; y: number; w: number; h: number; tx: number; items: [Cond, number][] }) {
  return (
    <>
      <div style={{ position: 'absolute', left: x, top: y, width: w, height: h, border: '1px solid #777', boxSizing: 'border-box', background: '#fff' }} />
      {items.map(([c, b]) => (
        <Txt key={c} x={tx} base={b} size={20} color={c === 'HL' ? '#666' : LINE_COLORS[c]}>{c}</Txt>
      ))}
    </>
  );
}

export default function App() {
  const colA = [66, 290, 515];
  const colB = [830, 1055, 1280];
  return (
    <div style={{ position: 'absolute', left: 0, top: 0, width: 1500, height: 593, overflow: 'hidden', background: '#fff', fontFamily: FONT }}>
      {PANELS.map((p) => <Panel key={p.id} spec={p} />)}

      <Txt x={2} base={20} size={25} bold>A</Txt>
      <Txt x={767} base={20} size={25} bold>B</Txt>
      <Txt x={36} base={43} size={22}>aDLS</Txt>
      <Txt x={798} base={43} size={22}>aDLS</Txt>
      {colA.map((ax, i) => <Txt key={'ta' + i} x={ax + 147 / 2} base={64} size={24} center>{GROUP_TITLES[i]}</Txt>)}
      {colB.map((ax, i) => <Txt key={'tb' + i} x={ax + 148 / 2} base={64} size={24} center>{GROUP_TITLES[i]}</Txt>)}

      <PLegend x={385} w={347} dots={[401, 515, 623]} texts={[413, 527, 637]} />
      <PLegend x={1151} w={341} dots={[1164, 1280, 1387]} texts={[1177, 1290, 1399]} />

      <Txt x={678} base={88} size={18} color={LINE_COLORS.HR}>vs. HR</Txt>
      <Txt x={678} base={375} size={18} color={LINE_COLORS.HR}>vs. HR</Txt>
      <Txt x={1444} base={87} size={18} color={LINE_COLORS.LL}>vs. LL</Txt>
      <Txt x={1443} base={375.5} size={18} color={LINE_COLORS.LL}>vs. LL</Txt>

      <CondLegend x={678} y={162} w={40} h={97} tx={684} items={[['HR', 181.5], ['LL', 205], ['HL', 230.5], ['LR', 256]]} />
      <CondLegend x={678} y={409} w={40} h={75} tx={686} items={[['LL', 429], ['HL', 453], ['LR', 478]]} />
      <CondLegend x={1444} y={162} w={41} h={97} tx={1448} items={[['HR', 181.5], ['LL', 205], ['HL', 230.5], ['LR', 256]]} />
      <CondLegend x={1444} y={423} w={41} h={75} tx={1448} items={[['HR', 444], ['HL', 468], ['LR', 493]]} />
    </div>
  );
}
